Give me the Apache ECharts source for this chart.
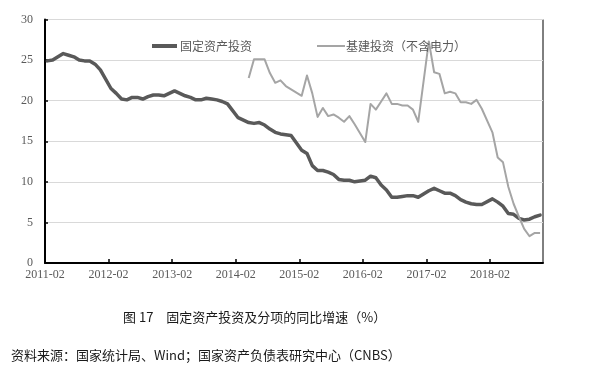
<!DOCTYPE html>
<html>
<head>
<meta charset="utf-8">
<script src="https://cdn.jsdelivr.net/npm/echarts@6/dist/echarts.min.js"></script>
<style>
  html, body { margin: 0; padding: 0; background: #fff; }
  #chart { width: 591px; height: 375px; }
</style>
</head>
<body>
<div id="chart"></div>
<script>
// ---- Data (cumulative YoY growth, %; January is reported together with February) ----
const seriesNames = ['固定资产投资', '基建投资（不含电力）'];

const faiMonths = [
  '2011-02','2011-03','2011-04','2011-05','2011-06','2011-07','2011-08','2011-09','2011-10','2011-11','2011-12',
  '2012-02','2012-03','2012-04','2012-05','2012-06','2012-07','2012-08','2012-09','2012-10','2012-11','2012-12',
  '2013-02','2013-03','2013-04','2013-05','2013-06','2013-07','2013-08','2013-09','2013-10','2013-11','2013-12',
  '2014-02','2014-03','2014-04','2014-05','2014-06','2014-07','2014-08','2014-09','2014-10','2014-11','2014-12',
  '2015-02','2015-03','2015-04','2015-05','2015-06','2015-07','2015-08','2015-09','2015-10','2015-11','2015-12',
  '2016-02','2016-03','2016-04','2016-05','2016-06','2016-07','2016-08','2016-09','2016-10','2016-11','2016-12',
  '2017-02','2017-03','2017-04','2017-05','2017-06','2017-07','2017-08','2017-09','2017-10','2017-11','2017-12',
  '2018-02','2018-03','2018-04','2018-05','2018-06','2018-07','2018-08','2018-09','2018-10','2018-11'
];
const faiValues = [
  24.9, 25.0, 25.4, 25.8, 25.6, 25.4, 25.0, 24.9, 24.9, 24.5, 23.8,
  21.5, 20.9, 20.2, 20.1, 20.4, 20.4, 20.2, 20.5, 20.7, 20.7, 20.6,
  21.2, 20.9, 20.6, 20.4, 20.1, 20.1, 20.3, 20.2, 20.1, 19.9, 19.6,
  17.9, 17.6, 17.3, 17.2, 17.3, 17.0, 16.5, 16.1, 15.9, 15.8, 15.7,
  13.9, 13.5, 12.0, 11.4, 11.4, 11.2, 10.9, 10.3, 10.2, 10.2, 10.0,
  10.2, 10.7, 10.5, 9.6, 9.0, 8.1, 8.1, 8.2, 8.3, 8.3, 8.1,
  8.9, 9.2, 8.9, 8.6, 8.6, 8.3, 7.8, 7.5, 7.3, 7.2, 7.2,
  7.9, 7.5, 7.0, 6.1, 6.0, 5.5, 5.3, 5.4, 5.7, 5.9
];

const infraMonths = [
  '2014-04','2014-05','2014-06','2014-07','2014-08','2014-09','2014-10','2014-11','2014-12',
  '2015-02','2015-03','2015-04','2015-05','2015-06','2015-07','2015-08','2015-09','2015-10','2015-11','2015-12',
  '2016-02','2016-03','2016-04','2016-05','2016-06','2016-07','2016-08','2016-09','2016-10','2016-11','2016-12',
  '2017-02','2017-03','2017-04','2017-05','2017-06','2017-07','2017-08','2017-09','2017-10','2017-11','2017-12',
  '2018-02','2018-03','2018-04','2018-05','2018-06','2018-07','2018-08','2018-09','2018-10','2018-11'
];
const infraValues = [
  22.8, 25.1, 25.1, 25.1, 23.4, 22.2, 22.5, 21.8, 21.4,
  20.6, 23.1, 20.9, 18.0, 19.1, 18.1, 18.3, 17.9, 17.4, 18.1, 17.1,
  14.9, 19.6, 18.9, 19.9, 20.9, 19.6, 19.6, 19.4, 19.4, 18.9, 17.4,
  27.3, 23.5, 23.3, 20.9, 21.1, 20.9, 19.8, 19.8, 19.6, 20.1, 19.0,
  16.1, 13.0, 12.4, 9.4, 7.3, 5.7, 4.2, 3.3, 3.7, 3.7
];

const tickLabels = ['2011-02','2012-02','2013-02','2014-02','2015-02','2016-02','2017-02','2018-02'];
const yTicks = [0, 5, 10, 15, 20, 25, 30];

const chartTitle = '图 17　固定资产投资及分项的同比增速（%）';
const sourceNote = '资料来源：国家统计局、Wind；国家资产负债表研究中心（CNBS）';

// ---- Helpers: time position in months since 2011-02 (data dated mid-month) ----
const BASE_Y = 2011, BASE_M = 2, MID = 0.45;
function monthPos(s) {
  const [y, m] = s.split('-').map(Number);
  return (y - BASE_Y) * 12 + (m - BASE_M);
}
function pairs(months, vals) {
  return months.map((d, i) => [monthPos(d) + MID, vals[i]]);
}
const labelByPos = {};
tickLabels.forEach(t => { labelByPos[monthPos(t)] = t; });

const chart = echarts.init(document.getElementById('chart'), null, { renderer: 'canvas' });
const CJK = '"Noto Sans CJK SC", "Noto Sans", sans-serif';
const SERIF = '"Liberation Serif", "DejaVu Serif", serif';

chart.setOption({
  animation: false,
  backgroundColor: '#ffffff',
  grid: {
    left: 45, right: 48, top: 19.5, bottom: 112,
    show: true, borderColor: '#000', borderWidth: 1, backgroundColor: 'transparent'
  },
  legend: [
    {
      data: [seriesNames[0]], left: 152, top: 40, padding: 0, icon: 'rect',
      itemWidth: 25, itemHeight: 4, itemGap: 2,
      textStyle: { fontFamily: CJK, fontSize: 12, color: '#595959', padding: [0, 0, 0, -2] }
    },
    {
      data: [seriesNames[1]], left: 317, top: 40, padding: 0, icon: 'rect',
      itemWidth: 28, itemHeight: 2, itemGap: 2,
      textStyle: { fontFamily: CJK, fontSize: 12, color: '#595959', padding: [0, 0, 0, -4] }
    }
  ],
  xAxis: {
    type: 'value',
    min: 0, max: monthPos('2018-12'), interval: 12,
    axisLine: { show: true, onZero: false, lineStyle: { color: '#000', width: 2 } },
    axisTick: { show: true, inside: true, length: 4, lineStyle: { color: '#000', width: 1.5 } },
    splitLine: { show: false },
    axisLabel: {
      showMaxLabel: false, margin: 6,
      fontFamily: SERIF, fontSize: 12, color: '#595959',
      formatter: v => labelByPos[v] || ''
    }
  },
  yAxis: {
    type: 'value',
    min: yTicks[0], max: yTicks[yTicks.length - 1], interval: 5,
    axisLine: { show: true, lineStyle: { color: '#000', width: 2 } },
    axisTick: { show: true, inside: true, length: 3, lineStyle: { color: '#000', width: 1.5 } },
    splitLine: { show: true, lineStyle: { color: '#d9d9d9', width: 1 } },
    axisLabel: { margin: 12, fontFamily: SERIF, fontSize: 12, color: '#595959' }
  },
  series: [
    {
      name: seriesNames[0], type: 'line', data: pairs(faiMonths, faiValues),
      symbol: 'none', smooth: false,
      itemStyle: { color: '#595959' },
      lineStyle: { color: '#595959', width: 3.5, join: 'round', cap: 'round' },
      z: 2
    },
    {
      name: seriesNames[1], type: 'line', data: pairs(infraMonths, infraValues),
      symbol: 'none', smooth: false,
      itemStyle: { color: '#a5a5a5' },
      lineStyle: { color: '#a5a5a5', width: 2, join: 'round' },
      z: 3
    }
  ],
  graphic: [
    {
      type: 'text', left: 123, top: 311,
      style: { text: chartTitle, font: '13px ' + CJK, fill: '#1a1a1a' }
    },
    {
      type: 'text', left: 11, top: 349,
      style: { text: sourceNote, font: '13px ' + CJK, fill: '#1a1a1a' }
    }
  ]
});
</script>
</body>
</html>
